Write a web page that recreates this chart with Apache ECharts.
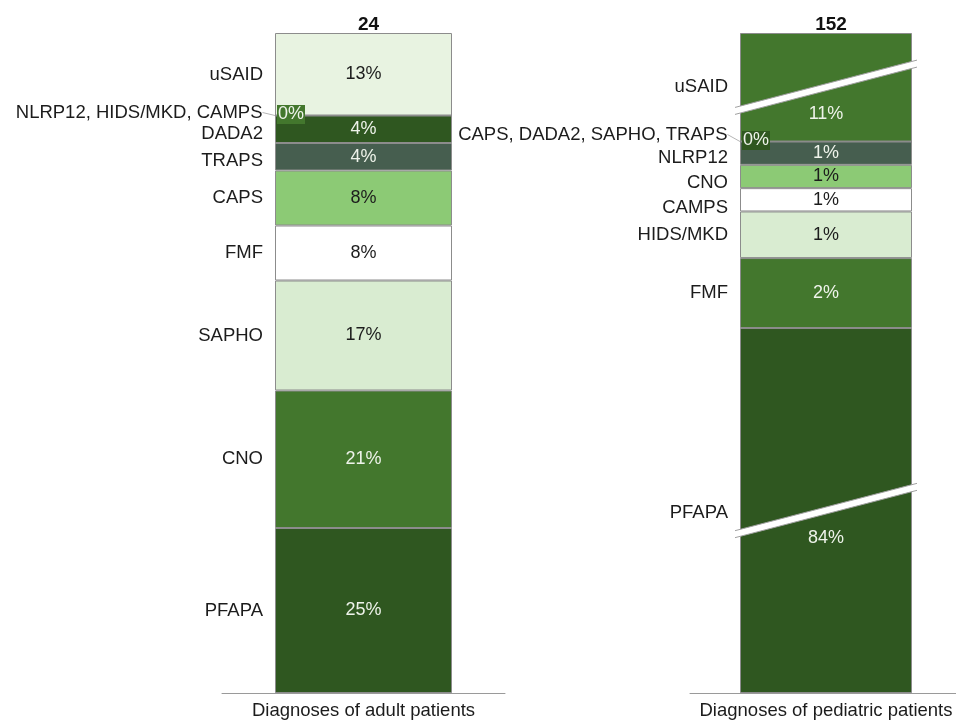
<!DOCTYPE html>
<html><head><meta charset="utf-8">
<script src="https://cdn.jsdelivr.net/npm/echarts@6/dist/echarts.min.js"></script>
<style>html,body{margin:0;padding:0;background:#fff}#c{width:956px;height:721px}</style>
</head><body><div id="c"></div>
<script>
// ---- data ----
const adultCategory = 'Diagnoses of adult patients';
const adultNames = ['PFAPA', 'CNO', 'SAPHO', 'FMF', 'CAPS', 'TRAPS', 'DADA2', 'NLRP12, HIDS/MKD, CAMPS', 'uSAID'];
const adultCounts = [6, 5, 4, 2, 2, 1, 1, 0, 3];

const pediatricCategory = 'Diagnoses of pediatric patients';
const pediatricNames = ['PFAPA', 'FMF', 'HIDS/MKD', 'CAMPS', 'CNO', 'NLRP12', 'CAPS, DADA2, SAPHO, TRAPS', 'uSAID'];
const pediatricCounts = [128, 3, 2, 1, 1, 1, 0, 16];
// broken value ranges on the pediatric axis
const pediatricBreaks = [[7.7, 120.3], [138.2, 149.8]];

// ---- style ----
const FONT = 'Liberation Sans, Arial, sans-serif';
const FS = 18.5;
const palette = ['#2f5720', '#43772d', '#d9ecd1', '#ffffff', '#8cca75', '#465e4f', '#2f5720', '#43772d', '#e8f3e1'];
const lightFill = new Set([2, 3, 4, 8]);
const darkText = '#1c1c1c', lightText = '#eef3ea';
const panels = [
  { left: 222, width: 283, barWidth: 177, pctShift: {},
    nameShift: { 'DADA2': 5, 'TRAPS': 4, 'uSAID': 1 }, zeroShift: -3 },
  { left: 690, width: 272, barWidth: 172, pctShift: { 'PFAPA': 28, 'uSAID': 27 },
    nameShift: { 'NLRP12': 5, 'CNO': 6, 'CAMPS': 8, 'PFAPA': 2 }, zeroShift: -7 }
];

const chart = echarts.init(document.getElementById('c'), null, { renderer: 'canvas' });

function buildSeries(idx, names, counts) {
  const total = counts.reduce((a, b) => a + b, 0);
  const p = panels[idx];
  const out = [];
  names.forEach((n, i) => {
    const color = palette[i % palette.length];
    const zero = counts[i] === 0;
    const nameSeries = {
      type: 'bar', name: n, stack: 'seg' + idx, xAxisIndex: idx, yAxisIndex: idx,
      barWidth: p.barWidth, barGap: '-100%', silent: true, animation: false,
      data: [counts[i]],
      itemStyle: { color: color, borderColor: '#8c8c8c', borderWidth: 1 },
      label: { show: true, position: 'left', distance: 12, formatter: n, color: darkText, fontSize: FS, fontFamily: FONT,
        offset: [0, zero ? 0 : (p.nameShift[n] || 0)] }
    };
    if (zero) {
      nameSeries.labelLayout = { dy: p.zeroShift };
      nameSeries.labelLine = { show: true, lineStyle: { color: '#b5b5b5', width: 1 } };
    }
    out.push(nameSeries);
    const pct = Math.round(counts[i] / total * 100) + '%';
    out.push({
      type: 'bar', name: n + ' %', stack: 'pct' + idx, xAxisIndex: idx, yAxisIndex: idx,
      barWidth: p.barWidth, barGap: '-100%', silent: true, animation: false,
      data: [counts[i]],
      itemStyle: { color: 'rgba(0,0,0,0)', borderWidth: 0 },
      label: {
        show: true, position: zero ? 'insideLeft' : 'inside', distance: zero ? 2 : 5,
        formatter: pct, fontSize: 18, fontFamily: FONT,
        color: lightFill.has(i) ? darkText : lightText,
        backgroundColor: zero ? color : 'transparent', padding: zero ? [1, 1, 0, 1] : 0,
        offset: [0, zero ? -1 : (p.pctShift[n] || 0)]
      }
    });
  });
  return { series: out, total: total };
}

const a = buildSeries(0, adultNames, adultCounts);
const b = buildSeries(1, pediatricNames, pediatricCounts);

const hiddenY = {
  type: 'value', axisLine: { show: false }, axisTick: { show: false },
  axisLabel: { show: false }, splitLine: { show: false }
};

function xAx(i, cat) {
  return {
    gridIndex: i, type: 'category', data: [cat],
    axisLine: { show: true, lineStyle: { color: '#9a9a9a', width: 1 } },
    axisTick: { show: false },
    axisLabel: { color: darkText, fontSize: FS, fontFamily: FONT, margin: 8 }
  };
}

function center(p) { return p.left + p.width / 2; }

chart.setOption({
  animation: false,
  title: [
    { text: String(a.total), left: center(panels[0]), top: 10, textAlign: 'center',
      textStyle: { fontSize: 19, fontWeight: 'bold', color: '#111', fontFamily: FONT } },
    { text: String(b.total), left: center(panels[1]), top: 10, textAlign: 'center',
      textStyle: { fontSize: 19, fontWeight: 'bold', color: '#111', fontFamily: FONT } }
  ],
  grid: [
    { left: panels[0].left, width: panels[0].width, top: 33, bottom: 28, outerBoundsMode: 'none', containLabel: false },
    { left: panels[1].left, width: panels[1].width, top: 33, bottom: 28, outerBoundsMode: 'none', containLabel: false }
  ],
  xAxis: [xAx(0, adultCategory), xAx(1, pediatricCategory)],
  yAxis: [
    Object.assign({}, hiddenY, { gridIndex: 0, min: 0, max: a.total }),
    Object.assign({}, hiddenY, {
      gridIndex: 1, min: 0, max: b.total,
      breaks: pediatricBreaks.map(([s, e]) => ({ start: s, end: e, gap: '0.9%' })),
      breakArea: { show: false }
    })
  ],
  series: a.series.concat(b.series)
});

// slanted white break marks, placed from the axis scale
function drawBreakMarks() {
  const cx = chart.convertToPixel({ xAxisIndex: 1 }, pediatricCategory);
  const half = panels[1].barWidth / 2 + 5;
  const slope = 0.26, th = 3.5;
  const els = [];
  pediatricBreaks.forEach(([s, e]) => {
    const y1 = chart.convertToPixel({ yAxisIndex: 1 }, s);
    const y2 = chart.convertToPixel({ yAxisIndex: 1 }, e);
    const cy = (y1 + y2) / 2;
    const xl = cx - half, xr = cx + half;
    const yl = cy + slope * half, yr = cy - slope * half;
    els.push({ type: 'polygon', z: 100, silent: true,
      shape: { points: [[xl, yl - th], [xr, yr - th], [xr, yr + th], [xl, yl + th]] },
      style: { fill: '#ffffff' } });
    els.push({ type: 'line', z: 101, silent: true, shape: { x1: xl, y1: yl - th, x2: xr, y2: yr - th },
      style: { stroke: '#a0a0a0', lineWidth: 1 } });
    els.push({ type: 'line', z: 101, silent: true, shape: { x1: xl, y1: yl + th, x2: xr, y2: yr + th },
      style: { stroke: '#a0a0a0', lineWidth: 1 } });
  });
  chart.setOption({ graphic: els });
}
drawBreakMarks();
</script>
</body></html>
